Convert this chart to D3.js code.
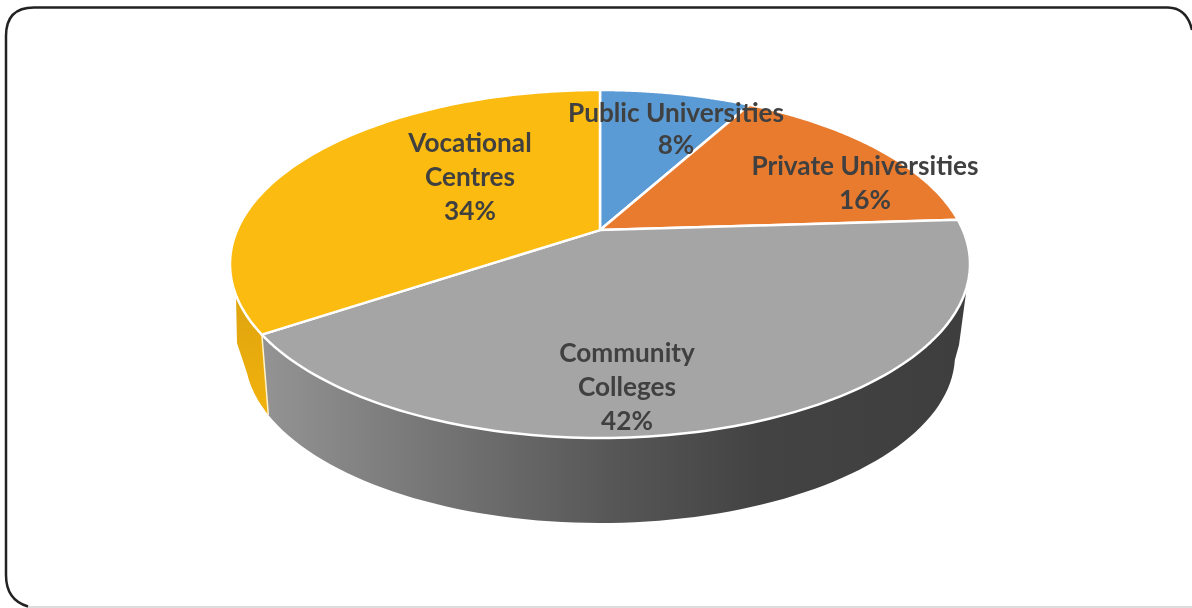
<!DOCTYPE html>
<html>
<head>
<meta charset="utf-8">
<script src="https://cdn.jsdelivr.net/npm/d3@7"></script>
<style>
html,body{margin:0;padding:0;background:#fff;overflow:hidden}
svg{display:block;filter:blur(0.45px)}
text{font-family:Lato,"Open Sans",sans-serif;font-weight:700;fill:#404040;text-anchor:middle}
</style>
</head>
<body>
<script>
const categories = ["Public Universities", "Private Universities", "Community Colleges", "Vocational Centres"];
const shares = [8, 16, 41.6, 34.4];
const colours = ["#5b9bd5", "#e97b2f", "#a5a5a5", "#fbbb10"];
const labelLines = [["Public Universities", "8%"], ["Private Universities", "16%"], ["Community", "Colleges", "42%"], ["Vocational", "Centres", "34%"]];
const labelCentres = [[676, 122], [865, 175], [627, 362], [470, 152]];
const lineHeights = [32, 34, 34, 34];

const W = 1192, H = 608;
const svg = d3.select("body").append("svg").attr("width", W).attr("height", H);

const top3d = {cx: 600, cy: 264, rx: 370, ry: 174, a: 0.195};
const base3d = {cx: 600, cy: 355, rx: 355, ry: 168, a: 0.25};
const leftShoulder = [237, 343];
const rightShoulder = [959, 345];

function project(e, theta) {
  const u = Math.sin(theta), v = Math.cos(theta), d = 1 + e.a * v, s = Math.sqrt(1 - e.a * e.a);
  return [e.cx + e.rx * u * s / d, e.cy - e.ry * (v + e.a) / d];
}
function param(e, t) { // plain ellipse, t clockwise from top
  return [e.cx + e.rx * Math.sin(t), e.cy - e.ry * Math.cos(t)];
}
function paramOf(e, p) {
  const t = Math.atan2((p[0] - e.cx) / e.rx, -(p[1] - e.cy) / e.ry);
  return t < 0 ? t + 2 * Math.PI : t;
}
const sweep = (e, t0, t1, n = 80) => d3.range(n + 1).map(i => param(e, t0 + (t1 - t0) * i / n));
const arcPts = (e, a0, a1, n = 120) => d3.range(n + 1).map(i => project(e, a0 + (a1 - a0) * i / n));
const line = d3.line();

const pie = d3.pie().sort(null).value(d => d);
const arcs = pie(shares);

const defs = svg.append("defs");
const grad = defs.append("linearGradient").attr("id", "sideGrey")
  .attr("gradientUnits", "userSpaceOnUse").attr("x1", 265).attr("x2", 970).attr("y1", 0).attr("y2", 0);
[[0, "#939393"], [0.25, "#747474"], [0.5, "#565656"], [0.7, "#434343"], [1, "#3e3e3e"]]
  .forEach(([o, c]) => grad.append("stop").attr("offset", o).attr("stop-color", c));
const gradY = defs.append("linearGradient").attr("id", "sideYellow")
  .attr("gradientUnits", "userSpaceOnUse").attr("x1", 0).attr("x2", 0).attr("y1", 300).attr("y2", 415);
gradY.append("stop").attr("offset", 0).attr("stop-color", "#dfa50f");
gradY.append("stop").attr("offset", 1).attr("stop-color", "#f2b20c");

// rounded frame
svg.append("path")
  .attr("d", "M28,606.5 Q6,600 6,575 L6,36 Q6,7.5 34,7.5 L1168,7.5 Q1187,8 1192,30")
  .attr("fill", "none").attr("stroke", "#222").attr("stroke-width", 2.5);
svg.append("path").attr("d", "M28,607 L1192,607").attr("fill", "none").attr("stroke", "#bbb").attr("stroke-width", 1);

const boundary = arcs[2].endAngle;
const pTop = project(top3d, boundary), pBase = project(base3d, boundary);
const tTop = paramOf(top3d, pTop), tBase = paramOf(base3d, pBase);

// side wall: grey slice
const greyTop = sweep(top3d, Math.PI / 2 + 0.13, tTop);
const greyBase = sweep(base3d, tBase, Math.PI / 2 + 0.03);
svg.append("path").attr("d", line(greyTop.concat(greyBase, [rightShoulder])) + "Z").attr("fill", "url(#sideGrey)");

// side wall: yellow slice
const yellowTop = sweep(top3d, tTop, 1.5 * Math.PI + 0.16, 40);
const yellowBase = sweep(base3d, 1.5 * Math.PI - 0.11, tBase, 40);
svg.append("path").attr("d", line(yellowTop.concat([leftShoulder], yellowBase)) + "Z").attr("fill", "url(#sideYellow)");
svg.append("path").attr("d", line([pTop, pBase])).attr("stroke", "#fff3c8").attr("stroke-width", 1.5).attr("fill", "none");

// top face
const apex = [top3d.cx, top3d.cy - top3d.ry * top3d.a];
svg.selectAll("path.slice").data(arcs).join("path").attr("class", "slice")
  .attr("d", d => line([apex].concat(arcPts(top3d, d.startAngle, d.endAngle))) + "Z")
  .attr("fill", (d, i) => colours[i])
  .attr("stroke", "#fff").attr("stroke-width", 2.5).attr("stroke-linejoin", "round");

// labels
labelLines.forEach((lines, i) => {
  lines.forEach((txt, j) => {
    svg.append("text").attr("x", labelCentres[i][0]).attr("y", labelCentres[i][1] + j * lineHeights[i])
      .attr("font-size", 26.2).text(txt);
  });
});
</script>
</body>
</html>
